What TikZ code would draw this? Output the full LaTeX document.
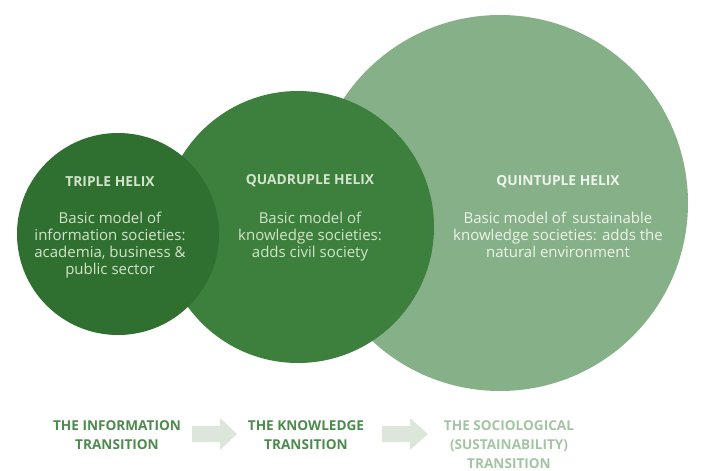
\documentclass[tikz,border=0pt]{standalone}
\usepackage{fontspec}
\setmainfont{Open Sans}
\definecolor{cTriple}{HTML}{2F6F30}
\definecolor{cQuad}{HTML}{3D7F3C}
\definecolor{cQuint}{HTML}{86B087}
\definecolor{txtDark}{HTML}{D2E4CC}
\definecolor{txtLight}{HTML}{EEF4EC}
\definecolor{lblA}{HTML}{4D8A4D}
\definecolor{lblB}{HTML}{A3C4A3}
\definecolor{arrowc}{HTML}{DCE6DB}
\tikzset{
  disc/.style={circle, inner sep=0pt, draw=none},
  ttl/.style={font=\fontsize{13.8}{16}\selectfont\bfseries, align=center, inner sep=0pt},
  body/.style={font=\fontsize{15}{16.8}\selectfont, align=center, inner sep=0pt, anchor=north},
  lbl/.style={font=\fontsize{13.6}{19}\selectfont\bfseries, align=center, inner sep=0pt, anchor=north},
  bigarrow/.style={fill=arrowc, draw=none}
}
\begin{document}
\begin{tikzpicture}[x=1pt,y=-1pt]
\useasboundingbox (0,0) rectangle (707,471);
% circles
\node[disc, fill=cQuint, minimum size=376pt] (quint) at (500,203) {};
\node[disc, fill=cQuad, minimum size=272pt] (quad) at (298,227) {};
\node[disc, fill=cTriple, minimum size=202pt] (triple) at (118,234) {};
% circle texts
\node[ttl, text=txtDark] (t1) at (110,182) {TRIPLE HELIX};
\node[body, text=txtDark] (b1) at (110,212) {Basic model of\\information societies:\\academia, business \&\\public sector};
\node[ttl, text=txtDark] (t2) at (310,181) {QUADRUPLE HELIX};
\node[body, text=txtDark] (b2) at (310,212) {Basic model of\\knowledge societies:\\adds civil society};
\node[ttl, text=txtLight] (t3) at (558,182) {QUINTUPLE HELIX};
\node[body, text=txtLight] (b3) at (558,212) {Basic model of\, sustainable\\knowledge societies: adds the\\natural environment};
% bottom labels
\node[lbl, text=lblA] (l1) at (117,420) {THE INFORMATION\\TRANSITION};
\node[lbl, text=lblA] (l2) at (306,420) {THE KNOWLEDGE\\TRANSITION};
\node[lbl, text=lblB] (l3) at (509,420) {THE SOCIOLOGICAL\\(SUSTAINABILITY)\\TRANSITION};
% arrows
\coordinate (a1) at (192,434);
\coordinate (a2) at (382,434);
\fill[bigarrow] (a1) ++(0,-8) -- ++(28,0) -- ++(0,-8) -- ++(17,16) -- ++(-17,16) -- ++(0,-8) -- ++(-28,0) -- cycle;
\fill[bigarrow] (a2) ++(0,-8) -- ++(28,0) -- ++(0,-8) -- ++(18,16) -- ++(-18,16) -- ++(0,-8) -- ++(-28,0) -- cycle;
\end{tikzpicture}
\end{document}
